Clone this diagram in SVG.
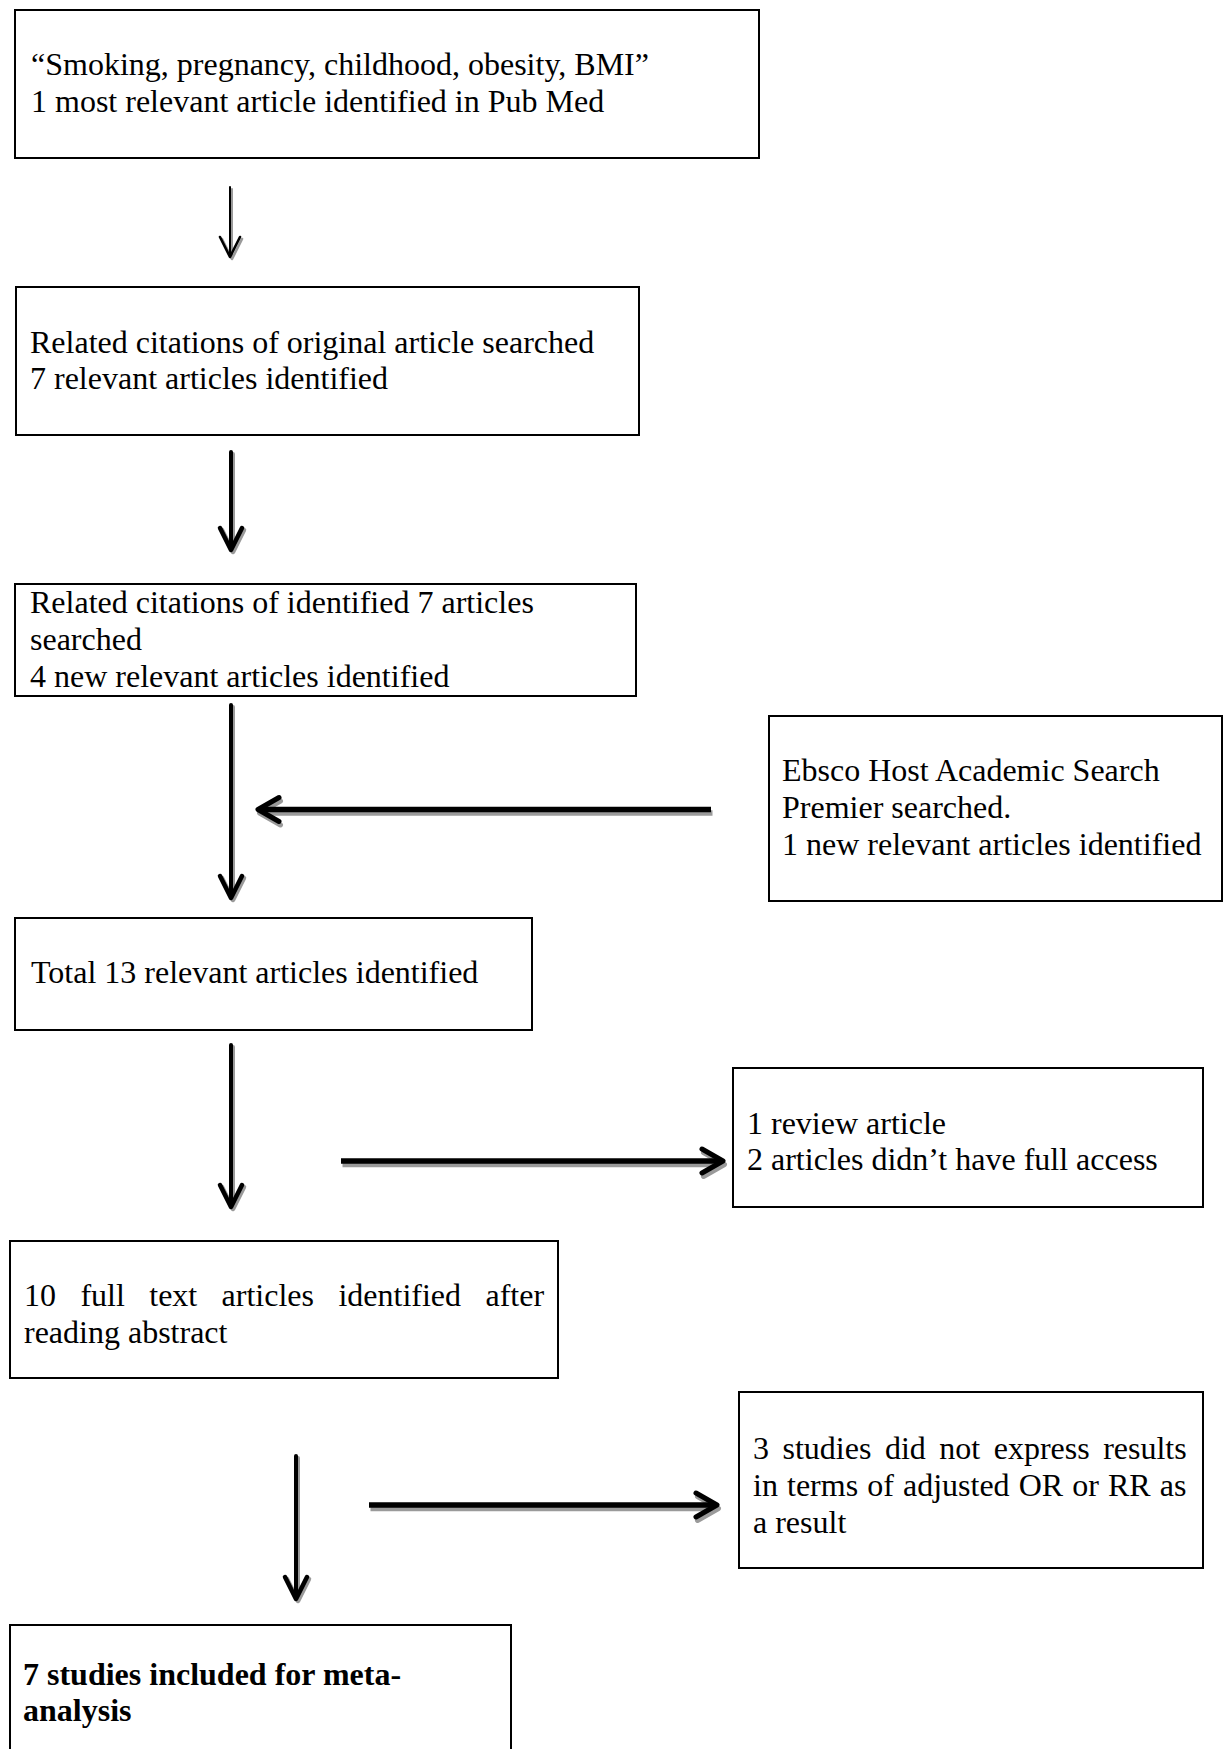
<svg xmlns="http://www.w3.org/2000/svg" width="1223" height="1749" viewBox="0 0 1223 1749">
<style>
.box{fill:#fff;stroke:#000;stroke-width:2}
.t{font-family:"Liberation Serif","Times New Roman",serif;font-size:32px;fill:#000}
.b{font-weight:bold}
.sh{stroke:#9a9a9a;fill:none;stroke-linecap:round;stroke-linejoin:round}
.ar{stroke:#000;fill:none;stroke-linecap:round;stroke-linejoin:round}
.thin{stroke-width:2}
.thinh{stroke-width:2.6}
.thk{stroke-width:4}
.thkh{stroke-width:4.5}
.hz{stroke-width:5.5;stroke-linecap:butt}
.hzh{stroke-width:5}
</style>
<rect width="1223" height="1749" fill="#fff"/>
<g id="connectors">
  <!-- thin arrow box1 -> box2 -->
  <g transform="translate(2,2)">
    <path class="sh thin" d="M230 187 V256"/>
    <path class="sh thinh" d="M220 237 L230 257 L240 237"/>
  </g>
  <path class="ar thin" d="M230 187 V256"/>
  <path class="ar thinh" d="M220 237 L230 257 L240 237"/>
  <!-- box2 -> box3 -->
  <g transform="translate(2,2)">
    <path class="sh thk" d="M231 452 V548"/>
    <path class="sh thkh" d="M220 528 L231 550 L242 528"/>
  </g>
  <path class="ar thk" d="M231 452 V548"/>
  <path class="ar thkh" d="M220 528 L231 550 L242 528"/>
  <!-- box3 -> total -->
  <g transform="translate(2,2)">
    <path class="sh thk" d="M231 705 V896"/>
    <path class="sh thkh" d="M220 876 L231 898 L242 876"/>
  </g>
  <path class="ar thk" d="M231 705 V896"/>
  <path class="ar thkh" d="M220 876 L231 898 L242 876"/>
  <!-- ebsco -> line -->
  <g transform="translate(1.5,3.5)">
    <path class="sh hz" d="M711 809.5 H260"/>
    <path class="sh hzh" d="M279 797.5 L258 809.5 L279 821.5"/>
  </g>
  <path class="ar hz" d="M711 809.5 H260"/>
  <path class="ar hzh" d="M279 797.5 L258 809.5 L279 821.5"/>
  <!-- total -> 10 full -->
  <g transform="translate(2,2)">
    <path class="sh thk" d="M231 1045 V1205"/>
    <path class="sh thkh" d="M220 1185 L231 1207 L242 1185"/>
  </g>
  <path class="ar thk" d="M231 1045 V1205"/>
  <path class="ar thkh" d="M220 1185 L231 1207 L242 1185"/>
  <!-- -> review box -->
  <g transform="translate(1.5,3.5)">
    <path class="sh hz" d="M341 1161 H720"/>
    <path class="sh hzh" d="M702 1149 L723 1161 L702 1173"/>
  </g>
  <path class="ar hz" d="M341 1161 H720"/>
  <path class="ar hzh" d="M702 1149 L723 1161 L702 1173"/>
  <!-- 10 full -> 7 studies -->
  <g transform="translate(2,2)">
    <path class="sh thk" d="M296 1456 V1597"/>
    <path class="sh thkh" d="M285 1577 L296 1599 L307 1577"/>
  </g>
  <path class="ar thk" d="M296 1456 V1597"/>
  <path class="ar thkh" d="M285 1577 L296 1599 L307 1577"/>
  <!-- -> 3 studies box -->
  <g transform="translate(1.5,3.5)">
    <path class="sh hz" d="M369 1505 H714"/>
    <path class="sh hzh" d="M696 1493 L717 1505 L696 1517"/>
  </g>
  <path class="ar hz" d="M369 1505 H714"/>
  <path class="ar hzh" d="M696 1493 L717 1505 L696 1517"/>
</g>
<g id="n1">
  <rect class="box" x="15" y="10" width="744" height="148"/>
  <text class="t" x="31" y="75">“Smoking, pregnancy, childhood, obesity, BMI”</text>
  <text class="t" x="31" y="112">1 most relevant article identified in Pub Med</text>
</g>
<g id="n2">
  <rect class="box" x="16" y="287" width="623" height="148"/>
  <text class="t" x="30" y="353">Related citations of original article searched</text>
  <text class="t" x="30" y="389">7 relevant articles identified</text>
</g>
<g id="n3">
  <rect class="box" x="15" y="584" width="621" height="112"/>
  <text class="t" x="30" y="613">Related citations of identified 7 articles</text>
  <text class="t" x="30" y="650">searched</text>
  <text class="t" x="30" y="687">4 new relevant articles identified</text>
</g>
<g id="n4">
  <rect class="box" x="769" y="716" width="453" height="185"/>
  <text class="t" x="782" y="781">Ebsco Host Academic Search</text>
  <text class="t" x="782" y="818">Premier searched.</text>
  <text class="t" x="782" y="855">1 new relevant articles identified</text>
</g>
<g id="n5">
  <rect class="box" x="15" y="918" width="517" height="112"/>
  <text class="t" x="31" y="983">Total 13 relevant articles identified</text>
</g>
<g id="n6">
  <rect class="box" x="733" y="1068" width="470" height="139"/>
  <text class="t" x="747" y="1134">1 review article</text>
  <text class="t" x="747" y="1170">2 articles didn’t have full access</text>
</g>
<g id="n7">
  <rect class="box" x="10" y="1241" width="548" height="137"/>
  <text class="t" x="24" y="1306" word-spacing="16.4">10 full text articles identified after</text>
  <text class="t" x="24" y="1343">reading abstract</text>
</g>
<g id="n8">
  <rect class="box" x="739" y="1392" width="464" height="176"/>
  <text class="t" x="753" y="1459" word-spacing="5.5">3 studies did not express results</text>
  <text class="t" x="753" y="1496" word-spacing="1.1">in terms of adjusted OR or RR as</text>
  <text class="t" x="753" y="1533">a result</text>
</g>
<g id="n9">
  <rect class="box" x="10" y="1625" width="501" height="140"/>
  <text class="t b" x="23" y="1685">7 studies included for meta-</text>
  <text class="t b" x="23" y="1721">analysis</text>
</g>
</svg>
